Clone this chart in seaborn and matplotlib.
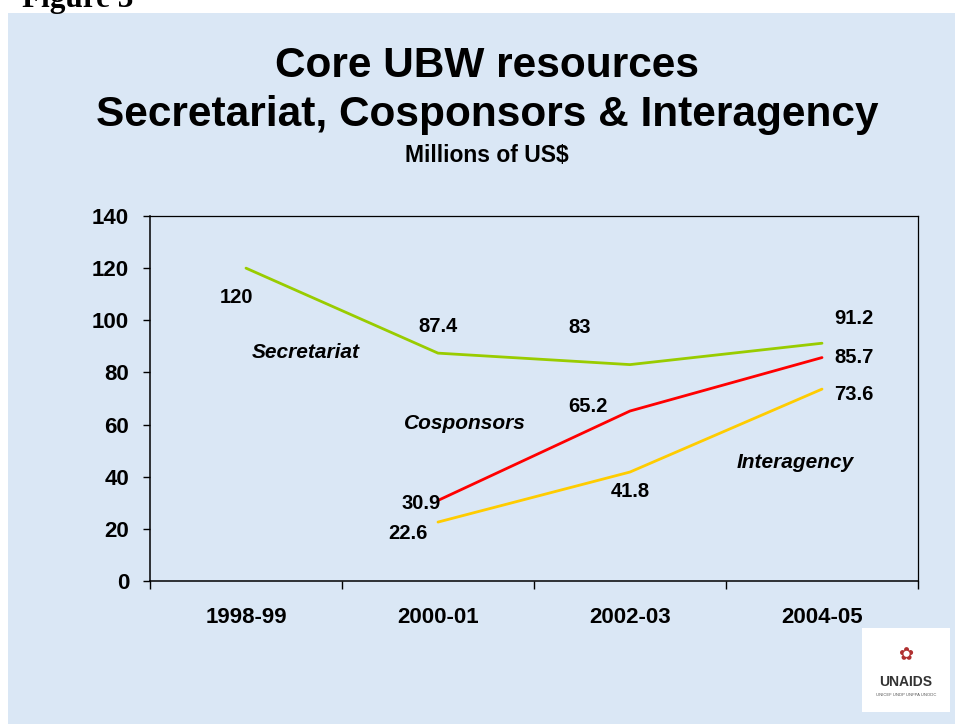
import matplotlib
matplotlib.use("Agg")
import matplotlib.pyplot as plt
from matplotlib.patches import Rectangle
import seaborn as sns
import pandas as pd
import numpy as np

periods = ["1998-99", "2000-01", "2002-03", "2004-05"]
secretariat = [120, 87.4, 83, 91.2]
cosponsors = [None, 30.9, 65.2, 85.7]
interagency = [None, 22.6, 41.8, 73.6]
series_names = ["Secretariat", "Cosponsors", "Interagency"]
y_ticks = [0, 20, 40, 60, 80, 100, 120, 140]

colors = {"Secretariat": "#99cc00", "Cosponsors": "#ff0000", "Interagency": "#ffcc00"}

rows = []
for name, vals in zip(series_names, [secretariat, cosponsors, interagency]):
    for i, v in enumerate(vals):
        if v is not None:
            rows.append({"period": i, "value": v, "series": name})
df = pd.DataFrame(rows)

sns.set_theme(style="white")
plt.rcParams["font.family"] = ["Liberation Sans", "DejaVu Sans"]
plt.rcParams["text.color"] = "black"

fig = plt.figure(figsize=(9.55, 7.24), dpi=100, facecolor="white")
# background panel
fig.patches.append(Rectangle((8 / 955, 0), 1 - 8 / 955, (724 - 13) / 724,
                             transform=fig.transFigure, facecolor="#dae7f5",
                             edgecolor="none", zorder=-5))

ax = fig.add_axes([150 / 955, (724 - 581) / 724, (918 - 150) / 955, (581 - 216) / 724])
ax.set_facecolor("none")

sns.lineplot(data=df, x="period", y="value", hue="series", palette=colors,
             hue_order=series_names, linewidth=2.0, legend=False, ax=ax,
             sort=False, estimator=None)

ax.set_xlim(-0.5, 3.5)
ax.set_ylim(0, 140)
ax.set_yticks(y_ticks)
ax.set_yticklabels([str(t) for t in y_ticks], fontsize=16, fontweight="bold")
ax.set_xticks(range(len(periods)))
ax.set_xticklabels(periods, fontsize=16, fontweight="bold")
ax.set_xticks(np.arange(-0.5, 3.6, 1.0), minor=True)
ax.tick_params(axis="x", which="major", length=0, pad=19, colors="black")
ax.tick_params(axis="x", which="minor", length=6, width=1, direction="out", color="black", bottom=True)
ax.tick_params(axis="y", which="major", length=5, width=1, direction="out", pad=10, colors="black", left=True)
ax.set_xlabel("")
ax.set_ylabel("")
for s in ["top", "right", "left", "bottom"]:
    ax.spines[s].set_visible(True)
    ax.spines[s].set_color("black")
    ax.spines[s].set_linewidth(0.9)
for s in ["left", "bottom"]:
    ax.spines[s].set_linewidth(1.1)

# data labels (offsets in points)
label_offsets = {
    "Secretariat": [(-7, -21), (0, 19), (-36, 27), (23, 18)],
    "Cosponsors": [None, (-12, -2), (-30, 3), (23, 0)],
    "Interagency": [None, (-22, -8), (0, -14), (23, -4)],
}
for name, vals in zip(series_names, [secretariat, cosponsors, interagency]):
    for i, v in enumerate(vals):
        if v is None:
            continue
        off = label_offsets[name][i]
        ax.annotate(f"{v:g}", (i, v), xytext=off, textcoords="offset points",
                    ha="center", va="center", fontsize=14.5, fontweight="bold",
                    color="black", annotation_clip=False)

# series name labels
ax.text(0.31, 87.8, "Secretariat", fontsize=15, fontweight="bold", style="italic",
        ha="center", va="center")
ax.text(1.14, 60.6, "Cosponsors", fontsize=15, fontweight="bold", style="italic",
        ha="center", va="center")
ax.text(2.86, 45.3, "Interagency", fontsize=15, fontweight="bold", style="italic",
        ha="center", va="center")

# titles
fig.text(487 / 955, 1 - 66 / 724, "Core UBW resources", ha="center", va="center",
         fontsize=30.5, fontweight="bold")
fig.text(487 / 955, 1 - 115 / 724, "Secretariat, Cosponsors & Interagency", ha="center",
         va="center", fontsize=30.5, fontweight="bold")
fig.text(487 / 955, 1 - 156 / 724, "Millions of US$", ha="center", va="center",
         fontsize=16.5, fontweight="bold")

# "Figure 3" header, cut off at the top edge as in the reference
fig.text(22 / 955, 1 - 7 / 724, "Figure 3", ha="left", va="baseline",
         fontsize=22.5, fontweight="bold", family=["Liberation Serif", "DejaVu Serif"])

# logo
fig.patches.append(Rectangle((862 / 955, 1 - 712 / 724), 88 / 955, 84 / 724,
                             transform=fig.transFigure, facecolor="white",
                             edgecolor="none", zorder=1))
fig.text(906 / 955, 1 - 655 / 724, "✿", ha="center", va="center", fontsize=13,
         color="#b03030", zorder=2, family=["DejaVu Sans"])
fig.text(906 / 955, 1 - 682 / 724, "UNAIDS", ha="center", va="center", fontsize=10,
         fontweight="bold", color="#333333", zorder=2)
fig.text(906 / 955, 1 - 695 / 724, "UNICEF UNDP UNFPA UNODC", ha="center", va="center",
         fontsize=3, color="#555555", zorder=2)

fig.savefig("out.png", dpi=100, facecolor=fig.get_facecolor())
